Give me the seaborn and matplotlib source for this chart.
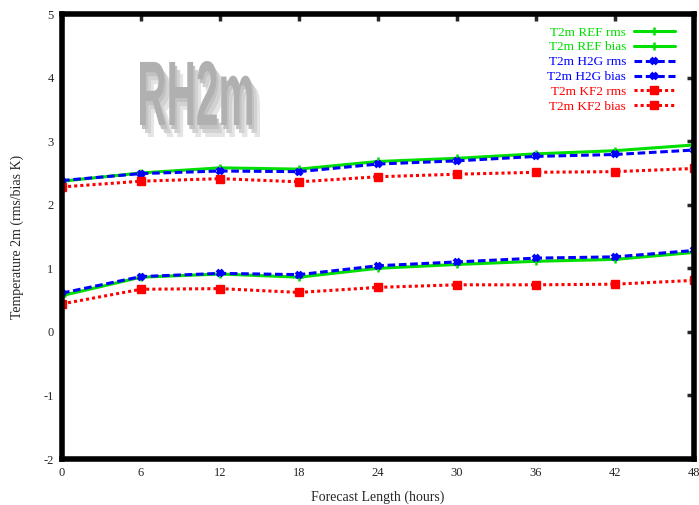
import numpy as np
import pandas as pd
import matplotlib
matplotlib.use('Agg')
import matplotlib.pyplot as plt
import seaborn as sns
from matplotlib.textpath import TextPath
from matplotlib.patches import PathPatch
from matplotlib.font_manager import FontProperties
from matplotlib.transforms import Affine2D

# Data ------------------------------------------------------------------------
hours = [0, 6, 12, 18, 24, 30, 36, 42, 48]

ref_rms = [2.37, 2.50, 2.58, 2.56, 2.68, 2.73, 2.80, 2.85, 2.94]
ref_bias = [0.57, 0.86, 0.91, 0.86, 1.00, 1.06, 1.11, 1.14, 1.25]
h2g_rms = [2.38, 2.49, 2.53, 2.52, 2.64, 2.69, 2.76, 2.79, 2.86]
h2g_bias = [0.61, 0.87, 0.92, 0.90, 1.04, 1.10, 1.16, 1.18, 1.28]
kf2_rms = [2.28, 2.37, 2.41, 2.36, 2.44, 2.48, 2.51, 2.52, 2.57]
kf2_bias = [0.44, 0.67, 0.68, 0.62, 0.70, 0.74, 0.74, 0.75, 0.81]

labels = ['T2m REF rms', 'T2m REF bias', 'T2m H2G rms',
          'T2m H2G bias', 'T2m KF2 rms', 'T2m KF2 bias']
series = [ref_rms, ref_bias, h2g_rms, h2g_bias, kf2_rms, kf2_bias]

# styles ----------------------------------------------------------------------
green, blue, red = '#00e000', '#0000ff', '#ff0000'
styles = [
    dict(color=green, linestyle='-', marker='+', markersize=6, markeredgewidth=1.8),
    dict(color=green, linestyle='-', marker='+', markersize=6, markeredgewidth=1.8),
    dict(color=blue, linestyle=(0, (2.5, 1.2)), marker='x', markersize=5, markeredgewidth=2.8),
    dict(color=blue, linestyle=(0, (2.5, 1.2)), marker='x', markersize=5, markeredgewidth=2.8),
    dict(color=red, linestyle=(0, (1, 1)), marker='s', markersize=5.5, markeredgewidth=1),
    dict(color=red, linestyle=(0, (1, 1)), marker='s', markersize=5.5, markeredgewidth=1),
]

sns.set_style('white')
plt.rcParams['font.family'] = ['Liberation Serif', 'DejaVu Serif']

fig = plt.figure(figsize=(6.99, 5.05), dpi=100)
ax = fig.add_axes([62 / 699, 1 - 459 / 505, 632 / 699, 445 / 505])

for lab, vals, st in zip(labels, series, styles):
    df = pd.DataFrame({'hour': hours, 'val': vals})
    sns.lineplot(data=df, x='hour', y='val', ax=ax, label=lab, linewidth=2.2,
                 markeredgecolor=st['color'], **st)

ax.set_xlim(0, 48)
ax.set_ylim(-2, 5)
ax.set_xticks(hours)
ax.set_yticks(range(-2, 6))
ax.set_yticklabels([str(v) for v in range(-2, 6)])
ax.tick_params(direction='in', length=5, width=2.5, top=True, right=True,
               labelsize=9, pad=6)
for sp in ax.spines.values():
    sp.set_linewidth(4)
    sp.set_color('black')

ax.set_xlabel('Forecast Length (hours)', fontsize=10, labelpad=8)
ax.set_ylabel('Temperature 2m (rms/bias K)', fontsize=10, labelpad=14)

leg = ax.legend(loc='upper right', bbox_to_anchor=(0.982, 0.99), frameon=False,
                markerfirst=False, labelcolor='linecolor', fontsize=9.5,
                handlelength=3.1, labelspacing=0.2, handletextpad=0.6,
                borderaxespad=0.2)

# watermark "RH2m" with a shadow -------------------------------------------------
tp = TextPath((0, 0), 'RH2m', size=1,
              prop=FontProperties(family='Liberation Sans', weight='bold'))
ext = tp.get_extents()
sx = 112 / ext.width
sy = 64 / ext.height
for dx, dy, col in [(8, -12, '#e4e4e4'), (5, -8, '#d2d2d2'), (2, -4, '#c2c2c2'),
                    (0, 0, '#b0b0b0')]:
    tr = Affine2D().translate(-ext.x0, -ext.y0).scale(sx, sy) \
        .translate(140 + dx, 505 - 125 + dy)
    patch = PathPatch(tr.transform_path(tp), facecolor=col, edgecolor='none',
                      transform=None, zorder=1)
    fig.patches.append(patch)

fig.savefig('out.png', dpi=100)
